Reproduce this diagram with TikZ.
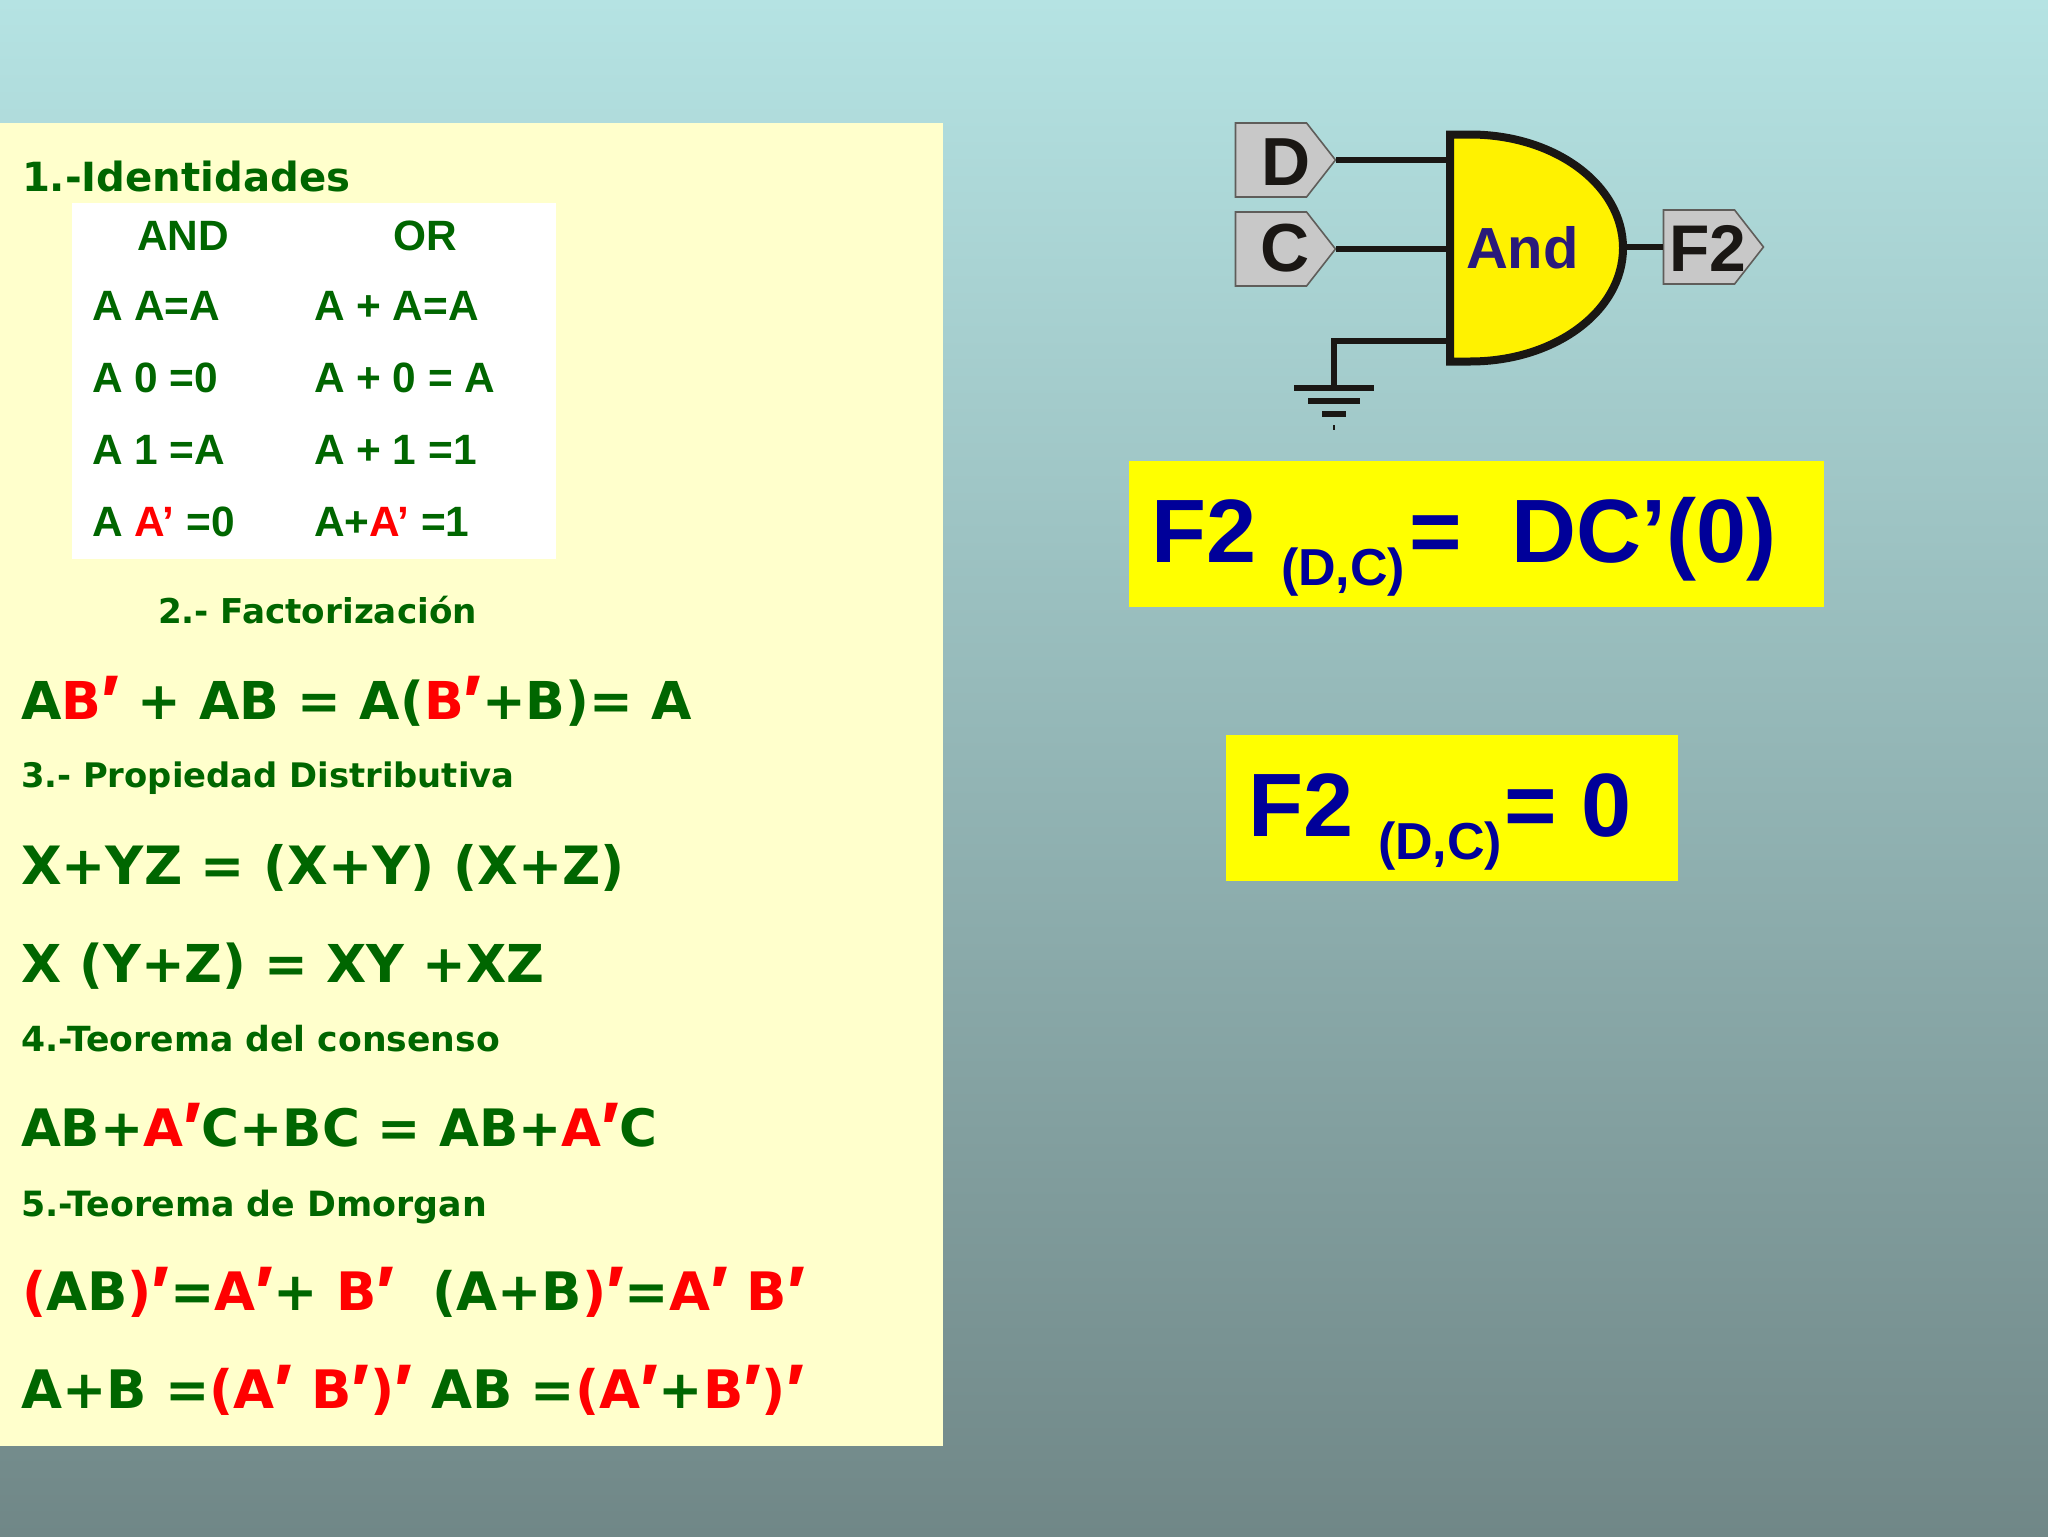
\documentclass[tikz,border=0pt]{standalone}
\usepackage{fontspec}
\usetikzlibrary{shapes.symbols}
\setmainfont{Liberation Sans}
\newfontfamily\vb{DejaVu Sans}
\newfontfamily\prf{Liberation Sans}
\definecolor{bgtop}{RGB}{181,227,227}
\definecolor{bgbot}{RGB}{112,135,135}
\definecolor{panel}{RGB}{255,255,204}
\definecolor{dgreen}{RGB}{0,102,0}
\definecolor{navy}{RGB}{0,0,153}
\definecolor{gatetxt}{RGB}{42,26,122}
\definecolor{tagfill}{RGB}{200,200,200}
\definecolor{wirec}{RGB}{26,23,20}
\definecolor{boxyel}{RGB}{255,255,0}
\definecolor{gateyel}{RGB}{255,242,0}
\definecolor{pured}{RGB}{255,0,0}
\newcommand{\rd}[1]{\textcolor{pured}{#1}}
\newcommand{\pr}{{\prf\fontsize{38}{38}\selectfont\raisebox{-4.6pt}{′}}}
\tikzset{
  x=0.5pt,y=-0.5pt,
  lbl/.style={anchor=base west,inner sep=0pt,outer sep=0pt,text=dgreen,font=\bfseries},
  head/.style={lbl,font={\vb\bfseries\fontsize{#1}{20}\selectfont}},
  eqn/.style={lbl,font={\vb\bfseries\fontsize{#1}{28}\selectfont}},
  cell/.style={lbl,font={\bfseries\fontsize{21.2}{23}\selectfont}},
  big/.style={lbl,text=navy,font={\bfseries\fontsize{45}{46}\selectfont}},
  sub/.style={lbl,text=navy,font={\bfseries\fontsize{26}{28}\selectfont}},
  tag/.style={signal,signal to=east,signal pointer angle=104,draw=wirec!70,line width=0.8pt,fill=tagfill,inner sep=0pt,minimum width=50pt,minimum height=37pt},
  tagtxt/.style={inner sep=0pt,text=wirec,font={\bfseries\fontsize{34}{36}\selectfont}},
  wire/.style={draw=wirec,line width=3.2pt},
}
\begin{document}
\begin{tikzpicture}
\useasboundingbox (0,0) rectangle (2048,1536);
\shade[top color=bgtop,bottom color=bgbot] (0,0) rectangle (2048,1536);
\fill[panel] (0,123) rectangle (943,1446);
\fill[white] (72,203) rectangle (556,559);
\fill[boxyel] (1129,461) rectangle (1824,607);
\fill[boxyel] (1226,735) rectangle (1678,881);

% left column
\node[head=20.1] (h1) at (22,191) {1.-Identidades};
\node[cell,anchor=base] (tand) at (183,250) {AND};
\node[cell,anchor=base] (tor) at (425,250) {OR};
\node[cell] (a1) at (92,320) {A A=A};
\node[cell] (a2) at (92,392) {A 0 =0};
\node[cell] (a3) at (92,464) {A 1 =A};
\node[cell] (a4) at (92,536) {A \rd{A’} =0};
\node[cell] (o1) at (314,320) {A + A=A};
\node[cell] (o2) at (314,392) {A + 0 = A};
\node[cell] (o3) at (314,464) {A + 1 =1};
\node[cell] (o4) at (314,536) {A+\rd{A’} =1};
\node[head=17.1] (h2) at (158,623) {2.- Factorización};
\node[eqn=26.1] (e1) at (21,719) {A\rd{B\pr} + AB = A(\rd{B\pr}+B)= A};
\node[head=16.9] (h3) at (21,787) {3.- Propiedad Distributiva};
\node[eqn=26.4] (e2) at (21,884) {X+YZ = (X+Y) (X+Z)};
\node[eqn=26.1] (e3) at (21,982) {X (Y+Z) = XY +XZ};
\node[head=17.3] (h4) at (21,1051) {4.-Teorema del consenso};
\node[eqn=25.8] (e4) at (21,1146) {AB+\rd{A\pr}C+BC = AB+\rd{A\pr}C};
\node[head=17.4] (h5) at (21,1216) {5.-Teorema de Dmorgan};
\node[eqn=26.5] (e5) at (22,1310) {\rd{(}AB\rd{)\pr}=\rd{A\pr}+ \rd{B\pr}\ \ (A+B\rd{)\pr}=\rd{A\pr\ B\pr}};
\node[eqn=26.5] (e6) at (21,1408) {A+B =\rd{(A\pr\ B\pr)\pr} AB =\rd{(A\pr}+\rd{B\pr)\pr}};

% gate
\coordinate (gout) at (1623,248);
\draw[draw=wirec,line width=4pt,fill=gateyel,line join=miter]
  (1450,134.5) -- (1470,134.5) .. controls (1555,134.5) and (1623,185) .. (gout)
  .. controls (1623,311) and (1555,361.5) .. (1470,361.5) -- (1450,361.5) -- cycle;
\coordinate (gg) at (1450,341);
\node[lbl,text=gatetxt,font={\bfseries\fontsize{29}{30}\selectfont}] (gl) at (1466,268) {And};
\node[tag] (D) at (1271,160) {};
\node[tag] (C) at (1271,249) {};
\node[tag] (F) at (1699,247) {};
\node[tagtxt] (Dt) at (1286,162) {D};
\node[tagtxt] (Ct) at (1285,248) {C};
\node[tagtxt,font={\bfseries\fontsize{33}{36}\selectfont}] (Ft) at (1708,248) {F2};
\draw[wire] (D.east) -- (D.east -| gg);
\draw[wire] (C.east) -- (C.east -| gg);
\draw[wire] (gout |- F.west) -- (F.west);
\coordinate (gcorner) at (1334,341);
\coordinate (g0) at (1334,388);
\draw[wire,line join=miter] (gg) -- (gcorner) -- (g0);
\coordinate (g1a) at (1294,388); \coordinate (g1b) at (1374,388);
\coordinate (g2a) at (1308,401); \coordinate (g2b) at (1360,401);
\coordinate (g3a) at (1322,414); \coordinate (g3b) at (1346,414);
\coordinate (g4a) at (1334,425); \coordinate (g4b) at (1334,430);
\draw[wire,line width=3pt] (g1a) -- (g1b);
\draw[wire,line width=3pt] (g2a) -- (g2b);
\draw[wire,line width=3pt] (g3a) -- (g3b);
\draw[draw=wirec,line width=1pt] (g4a) -- (g4b);

% formulas
\node[big] (f1) at (1151,562) {F2};
\node[sub] (s1) at (1281,585) {(D,C)};
\node[big] (r1) at (1409,562) {=\ \ DC’(0)};
\node[big] (f2) at (1248,836) {F2};
\node[sub] (s2) at (1378,859) {(D,C)};
\node[big] (r2) at (1504,836) {= 0};
\end{tikzpicture}
\end{document}
